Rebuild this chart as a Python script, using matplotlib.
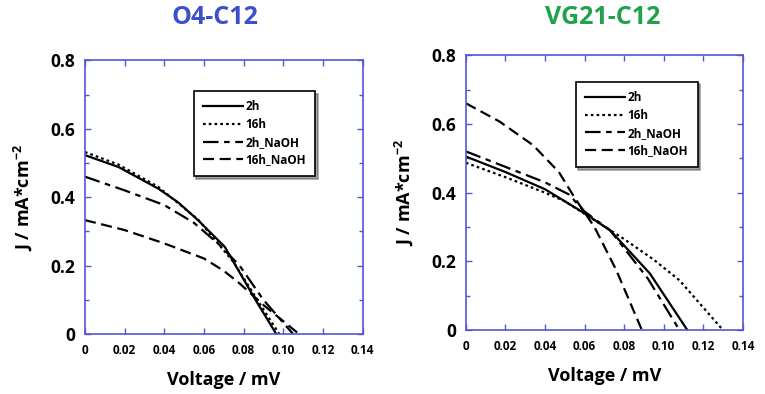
import numpy as np
import matplotlib
matplotlib.use("Agg")
import matplotlib.pyplot as plt
from matplotlib.ticker import MultipleLocator, FixedLocator, FixedFormatter

plt.rcParams['font.family'] = ['Open Sans', 'DejaVu Sans']
plt.rcParams['font.weight'] = 'bold'
plt.rcParams['mathtext.fontset'] = 'custom'
plt.rcParams['mathtext.rm'] = 'Open Sans'
plt.rcParams['mathtext.bf'] = 'Open Sans:bold'

labels = ['2h', '16h', '2h_NaOH', '16h_NaOH']

# O4-C12 panel
o4_2h_v = [0, 0.017, 0.037, 0.047, 0.057, 0.0705, 0.075, 0.086, 0.0965]
o4_2h_j = [0.523, 0.488, 0.425, 0.385, 0.333, 0.255, 0.21, 0.1, 0.0]
o4_16h_v = [0, 0.017, 0.037, 0.057, 0.075, 0.088, 0.098]
o4_16h_j = [0.532, 0.495, 0.43, 0.335, 0.21, 0.09, 0.0]
o4_2hn_v = [0, 0.02, 0.04, 0.055, 0.068, 0.078, 0.09, 0.105]
o4_2hn_j = [0.46, 0.42, 0.377, 0.325, 0.26, 0.2, 0.1, 0.0]
o4_16hn_v = [0, 0.02, 0.04, 0.06, 0.07, 0.078, 0.09, 0.108]
o4_16hn_j = [0.333, 0.304, 0.265, 0.221, 0.185, 0.148, 0.085, 0.0]

# VG21-C12 panel
vg_2h_v = [0, 0.02, 0.04, 0.05, 0.06, 0.073, 0.093, 0.112]
vg_2h_j = [0.505, 0.46, 0.41, 0.375, 0.34, 0.29, 0.165, 0.0]
vg_16h_v = [0, 0.02, 0.04, 0.05, 0.065, 0.08, 0.095, 0.108, 0.13]
vg_16h_j = [0.487, 0.445, 0.40, 0.375, 0.32, 0.265, 0.205, 0.145, 0.0]
vg_2hn_v = [0, 0.02, 0.04, 0.052, 0.06, 0.073, 0.092, 0.108]
vg_2hn_j = [0.52, 0.475, 0.43, 0.395, 0.345, 0.29, 0.15, 0.0]
vg_16hn_v = [0, 0.017, 0.034, 0.047, 0.055, 0.065, 0.076, 0.089]
vg_16hn_j = [0.66, 0.607, 0.538, 0.46, 0.385, 0.30, 0.175, 0.0]

xticks = [0, 0.02, 0.04, 0.06, 0.08, 0.10, 0.12, 0.14]
xticklabels = ['0', '0.02', '0.04', '0.06', '0.08', '0.10', '0.12', '0.14']
yticks = [0, 0.2, 0.4, 0.6, 0.8]
yticklabels = ['0', '0.2', '0.4', '0.6', '0.8']

styles = ['-', (0, (1.2, 1.4)), (0, (7, 2.5, 2.5, 2.5)), (0, (5, 2.5))]
spine_col = '#5555d5'

fig = plt.figure(figsize=(7.65, 3.94), dpi=100)
ax1 = fig.add_axes([0.111, 0.152, 0.363, 0.695])
ax2 = fig.add_axes([0.609, 0.162, 0.362, 0.698])

panels = [
    (ax1, 'O4-C12', '#3c4fcf', 0.281,
     [(o4_2h_v, o4_2h_j), (o4_16h_v, o4_16h_j), (o4_2hn_v, o4_2hn_j), (o4_16hn_v, o4_16hn_j)],
     (0.37, 0.91)),
    (ax2, 'VG21-C12', '#1fa24a', 0.788,
     [(vg_2h_v, vg_2h_j), (vg_16h_v, vg_16h_j), (vg_2hn_v, vg_2hn_j), (vg_16hn_v, vg_16hn_j)],
     (0.375, 0.925)),
]

for ax, title, tcol, tx, series, leg_pos in panels:
    for (v, j), ls, lab in zip(series, styles, labels):
        ax.plot(v, j, color='black', linestyle=ls, linewidth=1.6, label=lab)
    ax.set_xlim(0, 0.14)
    ax.set_ylim(0, 0.8)
    ax.xaxis.set_major_locator(FixedLocator(xticks))
    ax.xaxis.set_major_formatter(FixedFormatter(xticklabels))
    ax.yaxis.set_major_locator(FixedLocator(yticks))
    ax.yaxis.set_major_formatter(FixedFormatter(yticklabels))
    ax.yaxis.set_minor_locator(MultipleLocator(0.1))
    ax.tick_params(which='both', direction='in', top=True, right=True,
                   color=spine_col, width=1)
    ax.tick_params(which='major', length=4)
    ax.tick_params(which='minor', length=3)
    ax.tick_params(axis='x', labelsize=8.5, pad=7)
    ax.tick_params(axis='y', labelsize=12.5, pad=7)
    for s in ax.spines.values():
        s.set_color(spine_col)
        s.set_linewidth(1.2)
    ax.set_xlabel('Voltage / mV', fontsize=13, fontweight='bold', labelpad=10)
    ax.set_ylabel(r'J / mA*cm$^{\mathbf{-2}}$', fontsize=13, fontweight='bold', labelpad=12)
    fig.text(tx, 0.955, title, color=tcol, fontsize=18, fontweight='bold',
             ha='center', va='center')
    leg = ax.legend(loc='upper left', bbox_to_anchor=leg_pos, fontsize=8.5,
                    frameon=True, fancybox=False, shadow=True, handlelength=3.4,
                    handletextpad=0.2, labelspacing=0.4, borderpad=0.8)
    leg.get_frame().set_edgecolor('black')
    leg.get_frame().set_linewidth(1.2)
    for t in leg.get_texts():
        t.set_fontweight('bold')

fig.savefig('out.png', dpi=100)
